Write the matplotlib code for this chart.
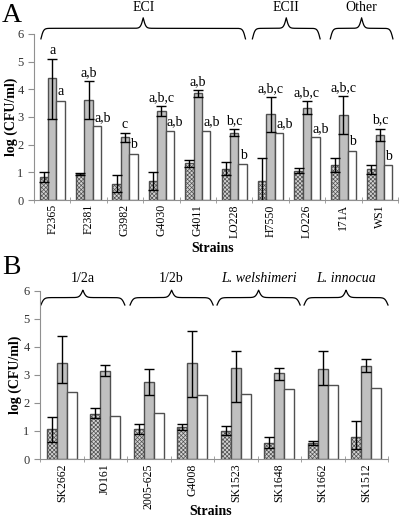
import numpy as np
import matplotlib
matplotlib.use('Agg')
import matplotlib.pyplot as plt

plt.rcParams['font.family'] = ['Liberation Serif', 'DejaVu Serif']
plt.rcParams['hatch.color'] = '#6a6a6a'
plt.rcParams['hatch.linewidth'] = 0.5

# ---- panel A data ----
strains_a = ['F2365', 'F2381', 'G3982', 'G4030', 'G4011', 'LO228', 'H7550', 'LO226', '171A', 'WS1']
hatch_a = [0.83, 0.94, 0.58, 0.70, 1.33, 1.12, 0.68, 1.06, 1.28, 1.11]
hatch_a_lo = [0.65, 0.91, 0.30, 0.35, 1.20, 0.90, 0.00, 0.97, 1.02, 0.95]
hatch_a_hi = [1.03, 0.97, 0.92, 1.00, 1.46, 1.36, 1.53, 1.16, 1.52, 1.28]
grey_a = [4.40, 3.62, 2.27, 3.22, 3.85, 2.43, 3.12, 3.32, 3.07, 2.35]
grey_a_lo = [2.93, 2.92, 2.10, 3.05, 3.72, 2.30, 2.45, 3.10, 2.39, 2.15]
grey_a_hi = [5.10, 4.30, 2.43, 3.40, 3.98, 2.55, 3.72, 3.57, 3.76, 2.58]
white_a = [3.58, 2.66, 1.68, 2.50, 2.50, 1.30, 2.43, 2.26, 1.77, 1.25]
grey_lab_a = ['a', 'a,b', 'c', 'a,b,c', 'a,b', 'b,c', 'a,b,c', 'a,b,c', 'a,b,c', 'b,c']
white_lab_a = ['a', 'a,b', 'b', 'a,b', 'a,b', 'b', 'a,b', 'a,b', 'b', 'b']
groups_a = ['ECI', 'ECII', 'Other']
group_span_a = [(-0.31, 5.31), (5.5, 7.36), (7.64, 9.36)]

# ---- panel B data ----
strains_b = ['SK2662', 'JO161', '2005-625', 'G4008', 'SK1523', 'SK1648', 'SK1662', 'SK1512']
hatch_b = [1.06, 1.62, 1.07, 1.13, 1.00, 0.57, 0.57, 0.77]
hatch_b_lo = [0.61, 1.45, 0.90, 1.03, 0.85, 0.40, 0.50, 0.35]
hatch_b_hi = [1.50, 1.82, 1.24, 1.24, 1.17, 0.77, 0.65, 1.35]
grey_b = [3.43, 3.15, 2.75, 3.43, 3.25, 3.05, 3.22, 3.33]
grey_b_lo = [2.70, 2.95, 2.28, 2.20, 2.05, 2.80, 2.65, 3.10]
grey_b_hi = [4.37, 3.36, 3.22, 4.57, 3.85, 3.25, 3.85, 3.57]
white_b = [2.40, 1.52, 1.65, 2.29, 2.30, 2.48, 2.65, 2.54]
groups_b = ['1/2a', '1/2b', 'L. welshimeri', 'L. innocua']
group_span_b = [(-0.48, 1.45), (1.57, 3.48), (3.57, 5.48), (5.57, 7.5)]
group_italic_b = [False, False, True, True]

EDGE = '#505050'
W = 0.23


def brace(ax, x0, x1, y_low, y_tip):
    # curly brace made of sigmoid halves
    n = 301
    x = np.linspace(x0, x1, n)
    half = x[:n // 2 + 1]
    beta = 28.0
    yh = (1 / (1 + np.exp(-beta * (half - half[0]))) +
          1 / (1 + np.exp(-beta * (half - half[-1]))))
    y = np.concatenate((yh, yh[-2::-1]))
    y = y_low + (y - y.min()) / (y.max() - y.min()) * (y_tip - y_low)
    ax.plot(x, y, color='black', lw=0.9, clip_on=False)


def draw_panel(ax, strains, h, hlo, hhi, g, glo, ghi, wv):
    x = np.arange(len(strains))
    ax.bar(x - W, h, W, color='#d4d4d4', edgecolor=EDGE, hatch='xxxxxxxx', lw=1.0)
    ax.bar(x, g, W, color='#c0c0c0', edgecolor=EDGE, lw=1.0)
    ax.bar(x + W, wv, W, color='white', edgecolor=EDGE, lw=1.0)
    h = np.array(h); g = np.array(g)
    ax.errorbar(x - W, h, yerr=[h - np.array(hlo), np.array(hhi) - h], fmt='none',
                ecolor='black', elinewidth=1.0, capsize=3.5, capthick=1.0)
    ax.errorbar(x, g, yerr=[g - np.array(glo), np.array(ghi) - g], fmt='none',
                ecolor='black', elinewidth=1.0, capsize=3.5, capthick=1.0)
    ax.set_xlim(-0.5, len(strains) - 0.5)
    ax.set_ylim(0, 6)
    ax.set_yticks(range(7))
    ax.set_xticks(x)
    ax.set_xticklabels(strains, rotation=90, fontsize=8.5)
    ax.set_xticks(np.arange(len(strains) + 1) - 0.5, minor=True)
    ax.tick_params(axis='x', which='major', length=0, pad=3)
    ax.tick_params(axis='x', which='minor', length=4, color='#909090', direction='inout')
    ax.tick_params(axis='y', labelsize=9, length=4, color='#909090', labelcolor='#333333')
    for s in ['top', 'right']:
        ax.spines[s].set_visible(False)
    for s in ['left', 'bottom']:
        ax.spines[s].set_color('#909090')
    ax.set_ylabel('log (CFU/ml)', fontsize=10, fontweight='bold')
    ax.set_xlabel('Strains', fontsize=10, fontweight='bold', va='center')
    return x


fig = plt.figure(figsize=(4.0, 5.21), dpi=100)

axA = fig.add_axes([0.085, 0.616, 0.91, 0.319])
xa = draw_panel(axA, strains_a, hatch_a, hatch_a_lo, hatch_a_hi, grey_a, grey_a_lo,
                grey_a_hi, white_a)
for i in range(len(strains_a)):
    axA.text(xa[i], grey_a_hi[i] + 0.18, grey_lab_a[i], ha='center', va='baseline', fontsize=10)
    axA.text(xa[i] + W * 0.65, white_a[i] + 0.2, white_lab_a[i], ha='left', va='baseline',
             fontsize=10)
for name, (x0, x1) in zip(groups_a, group_span_a):
    brace(axA, x0, x1, 5.82, 6.58)
    axA.text((x0 + x1) / 2, 6.72, name, ha='center', va='bottom', fontsize=10, clip_on=False)
axA.yaxis.set_label_coords(-0.045, 0.5)
axA.xaxis.set_label_coords(0.49, -0.29)
fig.text(0.005, 0.995, 'A', fontsize=20, va='top', ha='left')

axB = fig.add_axes([0.10, 0.119, 0.87, 0.323])
xb = draw_panel(axB, strains_b, hatch_b, hatch_b_lo, hatch_b_hi, grey_b, grey_b_lo,
                grey_b_hi, white_b)
for name, (x0, x1), it in zip(groups_b, group_span_b, group_italic_b):
    brace(axB, x0, x1, 5.49, 6.02)
    axB.text((x0 + x1) / 2, 6.2, name, ha='center', va='bottom', fontsize=10,
             style='italic' if it else 'normal', clip_on=False)
axB.yaxis.set_label_coords(-0.052, 0.5)
axB.xaxis.set_label_coords(0.49, -0.31)
fig.text(0.005, 0.51, 'B', fontsize=20, va='top', ha='left')

fig.savefig('out.png', dpi=100)
